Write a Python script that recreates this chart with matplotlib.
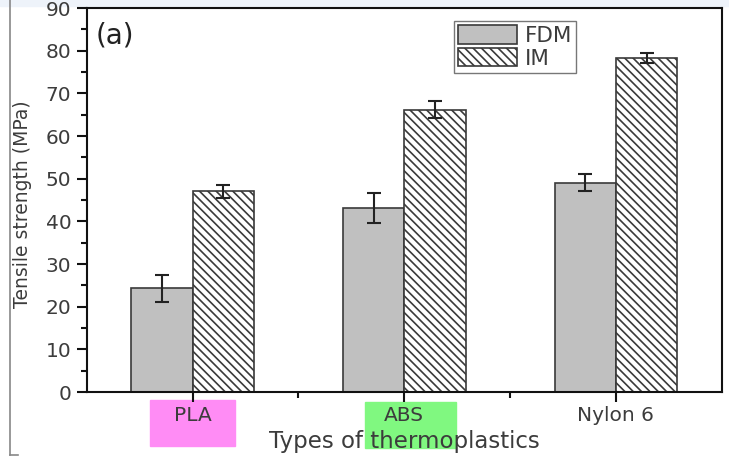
import matplotlib.pyplot as plt
import matplotlib.patches as mpatches
import matplotlib.lines as mlines
import numpy as np
from matplotlib.ticker import MultipleLocator, FixedLocator

plt.rcParams['font.family'] = ['DejaVu Sans']
plt.rcParams['hatch.linewidth'] = 1.2

# data
materials = ['PLA', 'ABS', 'Nylon 6']
fdm = [24.3, 43.2, 49.0]
fdm_err = [3.2, 3.5, 2.0]
im = [47.0, 66.2, 78.2]
im_err = [1.5, 2.0, 1.2]

GRAY = '#c0c0c0'
EDGE = '#3a3a3a'
TEXT = '#3c3c3c'

fig = plt.figure(figsize=(7.29, 4.58), dpi=100)
ax = fig.add_axes([0.119, 0.144, 0.871, 0.8385])
ax.set_zorder(1)

x = np.arange(1, len(materials) + 1)
w = 0.29

ax.bar(x - w / 2, fdm, w, color=GRAY, edgecolor=EDGE, linewidth=1.2,
       label='FDM', zorder=2)
ax.bar(x + w / 2, im, w, color='white', edgecolor=EDGE, linewidth=1.2,
       hatch='\\\\\\\\', label='IM', zorder=2)
ax.errorbar(x - w / 2, fdm, yerr=fdm_err, fmt='none', ecolor='#222222',
            elinewidth=1.5, capsize=5, capthick=1.5, zorder=3)
ax.errorbar(x + w / 2, im, yerr=im_err, fmt='none', ecolor='#222222',
            elinewidth=1.5, capsize=5, capthick=1.5, zorder=3)

ax.set_xlim(0.5, 3.5)
ax.set_ylim(0, 90)
ax.set_xticks(x)
ax.set_xticklabels(materials)
ax.xaxis.set_minor_locator(FixedLocator([1.5, 2.5]))
ax.yaxis.set_major_locator(MultipleLocator(10))
ax.yaxis.set_minor_locator(MultipleLocator(5))

ax.tick_params(axis='both', which='major', direction='out', length=7,
               width=1.5, labelsize=14.5, colors='#111111', labelcolor=TEXT)
ax.tick_params(axis='both', which='minor', direction='out', length=4,
               width=1.5, colors='#111111')
ax.tick_params(axis='x', pad=3)
ax.tick_params(axis='y', pad=4)

for s in ax.spines.values():
    s.set_linewidth(1.5)
    s.set_color('#111111')

ax.set_ylabel('Tensile strength (MPa)', fontsize=13.5, color=TEXT)
ax.yaxis.set_label_coords(-0.087, 0.49)
ax.set_xlabel('Types of thermoplastics', fontsize=16.5, color=TEXT, labelpad=4)

ax.text(0.014, 0.965, '(a)', transform=ax.transAxes, fontsize=20,
        color='#222222', va='top', ha='left')

leg = ax.legend(loc='upper left', bbox_to_anchor=(0.578, 0.967), fontsize=15.5,
                frameon=True, fancybox=False, edgecolor='#555555',
                handlelength=2.75, handleheight=0.95, handletextpad=0.35,
                borderpad=0.2, labelspacing=0.1, borderaxespad=0)
leg.get_frame().set_linewidth(1.0)
for t in leg.get_texts():
    t.set_color(TEXT)

# highlight marks behind two tick labels
fig.patches.append(mpatches.Rectangle((150 / 729, 1 - 446 / 458), 85 / 729, 46 / 458,
                                      transform=fig.transFigure, color='#ff8cf5',
                                      zorder=-1))
fig.patches.append(mpatches.Rectangle((365 / 729, 1 - 448 / 458), 91 / 729, 46 / 458,
                                      transform=fig.transFigure, color='#80f880',
                                      zorder=-1))
# faint strip along the top of the screenshot
fig.patches.append(mpatches.Rectangle((0, 1 - 6 / 458), 1, 6 / 458,
                                      transform=fig.transFigure, color='#eef3fa',
                                      zorder=-1))

# screenshot border on the left
fig.add_artist(mlines.Line2D([10 / 729, 10 / 729], [1 - 455 / 458, 1.0],
                             transform=fig.transFigure, color='#888888', lw=1.2))
fig.add_artist(mlines.Line2D([10 / 729, 18 / 729], [1 - 455 / 458, 1 - 455 / 458],
                             transform=fig.transFigure, color='#888888', lw=1.2))

fig.savefig('out.png', dpi=100, facecolor='white')
